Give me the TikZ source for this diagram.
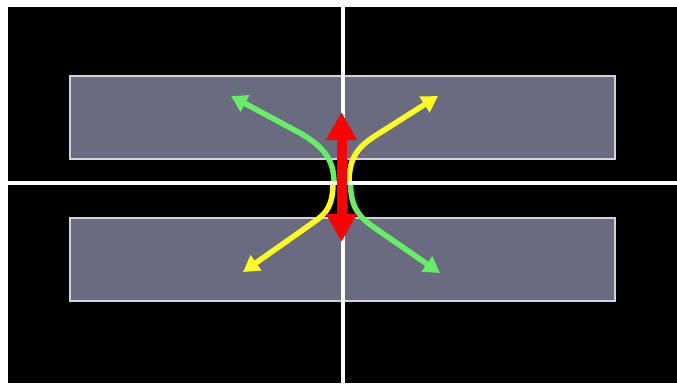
\documentclass[tikz,border=0pt]{standalone}
\usetikzlibrary{arrows.meta}
\definecolor{bandfill}{HTML}{6A6A80}
\definecolor{bandline}{HTML}{D2D2DA}
\definecolor{gr}{HTML}{66EE66}
\definecolor{ye}{HTML}{FFFF22}
\definecolor{rd}{HTML}{FF0000}
\begin{document}
\begin{tikzpicture}[x=1pt,y=-1pt,
  band/.style={fill=bandfill,draw=bandline,line width=1.8pt},
  axis/.style={draw=white,line width=4pt},
  flow/.style={line width=5.5pt,-{Triangle[length=16pt,width=18pt]}},
  pull/.style={draw=rd,line width=10pt,{Triangle[length=28pt,width=29pt]}-{Triangle[length=28pt,width=29pt]}}]
\useasboundingbox (0,0) rectangle (677,383);
\fill[white] (0,0) rectangle (677,383);
\fill[black] (8,7) rectangle (677,383);
\draw[band] (70,76) rectangle (615,159);
\draw[band] (70,218) rectangle (615,301);
\coordinate (vt) at (342.5,7);
\coordinate (vb) at (342.5,383);
\coordinate (hl) at (8,183);
\coordinate (hr) at (677,183);
\draw[axis] (vt) -- (vb);
% green
\coordinate (g1) at (334,183);
\coordinate (g2) at (231,96);
\coordinate (g3) at (350.5,182);
\coordinate (g4) at (440,273);
\draw[flow,gr] (g1) .. controls (334,158) and (322,146) .. (300,133) -- (g2);
\draw[flow,gr] (g3) .. controls (350.5,205) and (357,215) .. (372,226) -- (g4);
% yellow
\coordinate (y1) at (349,183);
\coordinate (y2) at (438,96);
\coordinate (y3) at (333,182);
\coordinate (y4) at (243,272);
\draw[flow,ye] (y1) .. controls (349,160) and (356,148) .. (375,136) -- (y2);
\draw[flow,ye] (y3) .. controls (333,205) and (327,213) .. (314,222) -- (y4);
\draw[axis] (hl) -- (hr);
% red
\coordinate (rt) at (341.5,112);
\coordinate (rb) at (341.5,242);
\draw[pull] (rt) -- (rb);
\end{tikzpicture}
\end{document}
